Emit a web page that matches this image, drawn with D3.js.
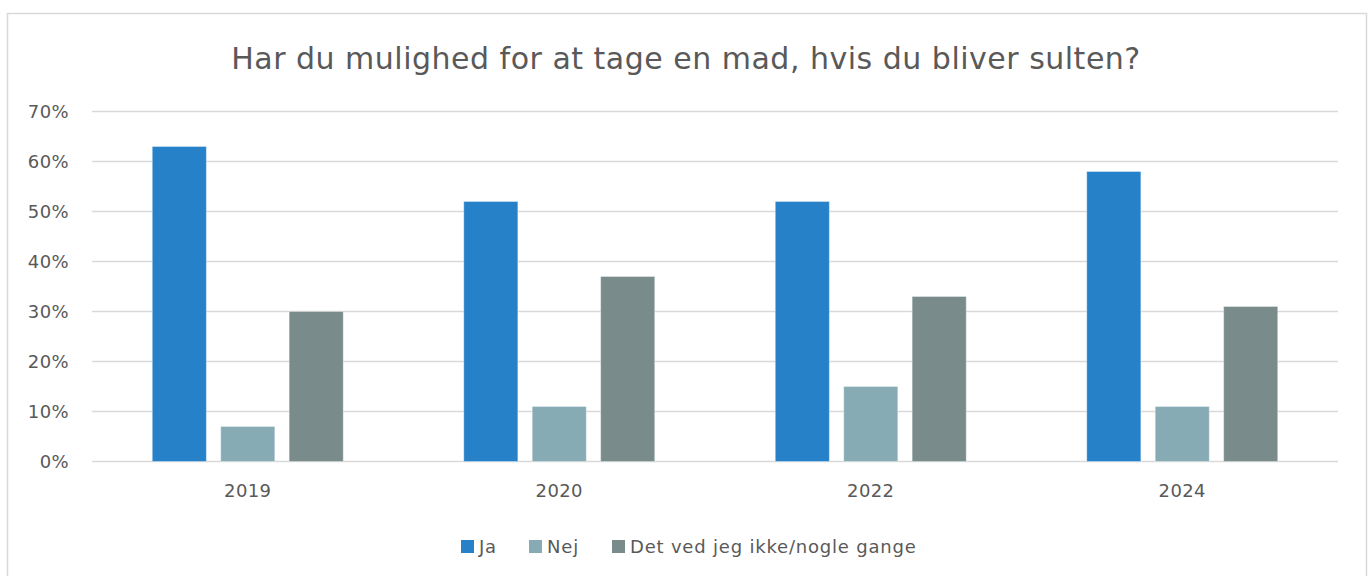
<!DOCTYPE html>
<html>
<head>
<meta charset="utf-8">
<script src="https://cdn.jsdelivr.net/npm/d3@7"></script>
<style>
  body { margin: 0; background: #fff; }
  text { font-family: "DejaVu Sans", sans-serif; fill: #595959; }
</style>
</head>
<body>
<div id="root"></div>
<script>
// data
var years = ["2019", "2020", "2022", "2024"];
var seriesNames = ["Ja", "Nej", "Det ved jeg ikke/nogle gange"];
var ja = [63, 52, 52, 58];
var nej = [7, 11, 15, 11];
var detVed = [30, 37, 33, 31];
var yTicks = [0, 10, 20, 30, 40, 50, 60, 70];
var colors = ["#2681C8", "#86ABB5", "#7A8B8C"];

var w = 1369, h = 576;
var margin = { top: 111.5, right: 31, bottom: 114.5, left: 92 };

var svg = d3.select("#root").append("svg").attr("width", w).attr("height", h);

// chart frame
svg.append("rect").attr("x", 7.5).attr("y", 13.5).attr("width", 1359).attr("height", 580)
  .attr("fill", "#fff").attr("stroke", "#D9D9D9").attr("stroke-width", 1.5);

var x0 = d3.scaleBand().domain(years).range([margin.left, w - margin.right]).paddingInner(0.387).paddingOuter(0.1935);
var x1 = d3.scaleBand().domain(seriesNames).range([0, x0.bandwidth()]).paddingInner(0.21);
var y = d3.scaleLinear().domain([0, 70]).range([h - margin.bottom, margin.top]);

// gridlines
svg.append("g").selectAll("line").data(yTicks).enter().append("line")
  .attr("x1", margin.left).attr("x2", w - margin.right)
  .attr("y1", function(d) { return y(d); }).attr("y2", function(d) { return y(d); })
  .attr("stroke", "#D9D9D9").attr("stroke-width", 1.5);

// y axis
var yAxis = d3.axisLeft(y).tickValues(yTicks).tickFormat(function(d) { return d + "%"; }).tickSize(0).tickPadding(23);
var gy = svg.append("g").attr("transform", "translate(" + margin.left + ",0)").call(yAxis);
gy.select(".domain").remove();
gy.selectAll("text").style("font-size", "18px").style("fill", "#595959")
  .style("font-family", "'DejaVu Sans', sans-serif").style("letter-spacing", "0.4px");

// bars
var table = years.map(function(yr, i) { return [ja[i], nej[i], detVed[i]]; });
var groups = svg.append("g").selectAll("g").data(table).enter().append("g")
  .attr("transform", function(d, i) { return "translate(" + x0(years[i]) + ",0)"; });
groups.selectAll("rect").data(function(d) { return d; }).enter().append("rect")
  .attr("x", function(d, j) { return x1(seriesNames[j]); })
  .attr("y", function(d) { return y(d); })
  .attr("width", x1.bandwidth())
  .attr("height", function(d) { return y(0) - y(d); })
  .attr("fill", function(d, j) { return colors[j]; })
  .attr("stroke", "#ffffff").attr("stroke-opacity", 0.35).attr("stroke-width", 1);

// x axis
var xAxis = d3.axisBottom(x0).tickSize(0).tickPadding(23);
var gx = svg.append("g").attr("transform", "translate(0," + y(0) + ")").call(xAxis);
gx.select(".domain").remove();
gx.selectAll("text").style("font-size", "18px").style("fill", "#595959")
  .style("font-family", "'DejaVu Sans', sans-serif").style("letter-spacing", "0.4px");

// title
svg.append("text").attr("x", 686).attr("y", 69).attr("text-anchor", "middle")
  .style("font-size", "30px").style("letter-spacing", "0.5px")
  .text("Har du mulighed for at tage en mad, hvis du bliver sulten?");

// legend
var legendX = [461, 529, 612];
var legend = svg.append("g").selectAll("g").data(seriesNames).enter().append("g")
  .attr("transform", function(d, i) { return "translate(" + legendX[i] + ",540)"; });
legend.append("rect").attr("width", 13).attr("height", 13).attr("fill", function(d, i) { return colors[i]; });
legend.append("text").attr("x", 18).attr("y", 13).style("font-size", "18px").style("letter-spacing", "0.8px")
  .text(function(d) { return d; });
</script>
</body>
</html>
